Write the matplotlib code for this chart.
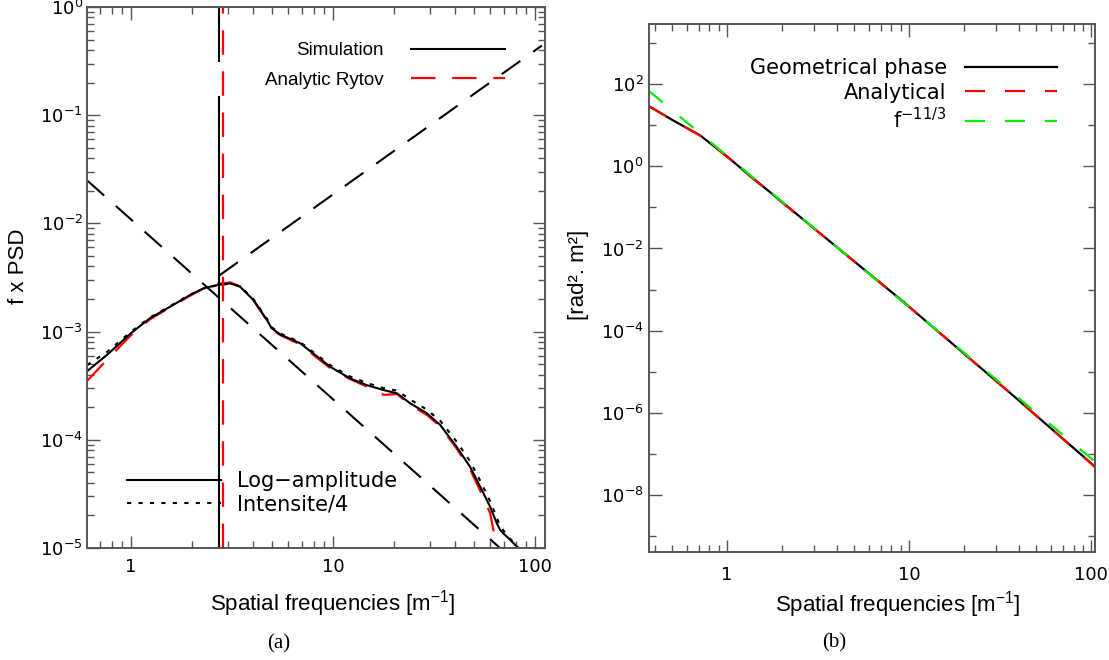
import matplotlib.pyplot as plt
from matplotlib.ticker import FixedLocator, FixedFormatter, LogLocator, NullFormatter, LogFormatterSciNotation

# ---- panel (a): f x PSD of log-amplitude ----
freq_a = [0.605, 0.76, 1.0, 1.24, 1.56, 1.96, 2.28, 2.66, 3.09, 3.46, 4.03, 4.70, 4.95, 5.47, 6.87, 9.67,
          12.1, 14.7, 17.8, 20.7, 24.1, 29.1, 33.9, 40.9, 47.7, 53.4, 59.9, 64.6, 67.1, 69.7, 75.2, 82.6]
log_amp = [4.3e-4, 6.1e-4, 9.7e-4, 1.33e-3, 1.70e-3, 2.18e-3, 2.51e-3, 2.69e-3, 2.79e-3, 2.60e-3, 1.96e-3,
           1.28e-3, 1.08e-3, 9.4e-4, 7.8e-4, 4.73e-4, 3.70e-4, 3.2e-4, 2.88e-4, 2.69e-4, 2.17e-4, 1.76e-4,
           1.37e-4, 8.6e-5, 5.6e-5, 3.7e-5, 2.4e-5, 1.69e-5, 1.47e-5, 1.36e-5, 1.19e-5, 1.0e-5]
intens_4 = [4.9e-4, 6.5e-4, 1.0e-3, 1.35e-3, 1.72e-3, 2.2e-3, 2.5e-3, 2.67e-3, 2.78e-3, 2.62e-3, 2.0e-3,
            1.32e-3, 1.1e-3, 9.6e-4, 8.0e-4, 4.9e-4, 3.85e-4, 3.35e-4, 3.0e-4, 2.85e-4, 2.35e-4, 1.9e-4,
            1.5e-4, 9.6e-5, 6.3e-5, 4.2e-5, 2.7e-5, 1.9e-5, 1.6e-5, 1.45e-5, 1.22e-5, 1.0e-5]
freq_rytov = [0.605, 0.76, 1.0, 1.24, 1.56, 1.96, 2.28, 2.66, 3.09, 3.46, 4.03, 4.70, 4.95, 5.47, 6.87, 9.67,
              12.1, 14.7, 17.8, 20.7, 24.1, 29.1, 33.9, 40.9, 47.7, 53.4, 59.9, 64.6]
rytov = [3.5e-4, 5.5e-4, 9.3e-4, 1.30e-3, 1.68e-3, 2.15e-3, 2.5e-3, 2.75e-3, 2.85e-3, 2.62e-3, 1.95e-3,
         1.27e-3, 1.05e-3, 9.3e-4, 7.6e-4, 4.6e-4, 3.65e-4, 3.1e-4, 2.6e-4, 2.65e-4, 2.1e-4, 1.7e-4,
         1.33e-4, 8.3e-5, 5.3e-5, 3.4e-5, 2.1e-5, 1.0e-5]

# asymptotes
asym_low_x = [0.605, 67.0]
asym_low_y = [0.025, 1.0e-5]
asym_high_x = [2.73, 108.0]
asym_high_y = [3.3e-3, 0.44]

# cut-off frequencies (vertical lines)
cut_sim = 2.73
cut_rytov = 2.85
sim_gap = [0.147, 0.316]

# ---- panel (b): phase spectrum ----
freq_b = [0.373, 0.5, 0.71, 1.0, 1.23, 9.0, 37.8, 105.0]
geo_phase = [29.0, 13.5, 5.7, 1.75, 0.80, 5.7e-4, 2.5e-6, 4.9e-8]
analytical = [29.0, 13.5, 5.6, 1.72, 0.78, 5.7e-4, 2.5e-6, 4.8e-8]
kolmo_x = [0.373, 105.0]
kolmo_y = [68.0, 6.5e-8]

plt.rcParams['font.family'] = 'DejaVu Sans'
plt.rcParams['mathtext.default'] = 'regular'
spine_col = '#555555'
label_font = 'Liberation Sans'

fig = plt.figure(figsize=(11.09, 6.6), dpi=100)
ax1 = fig.add_axes([0.0785, 0.1697, 0.413, 0.8197])
ax2 = fig.add_axes([0.5852, 0.1636, 0.4022, 0.800])

for ax in (ax1, ax2):
    ax.set_xscale('log')
    ax.set_yscale('log')
    for s in ax.spines.values():
        s.set_color(spine_col)
        s.set_linewidth(1.4)
    ax.tick_params(which='both', direction='in', top=True, right=True, color=spine_col, width=1.0, labelsize=13)
    ax.tick_params(which='major', length=9)
    ax.tick_params(which='minor', length=5)

# ---- panel (a) drawing ----
ax1.plot(freq_rytov, rytov, color='red', lw=1.6, dashes=(11, 7.5))
ax1.plot(freq_a, intens_4, color='black', lw=1.5, dashes=(2, 3.5))
ax1.plot(freq_a, log_amp, color='black', lw=1.5)
ax1.plot(asym_low_x, asym_low_y, color='black', lw=1.5, dashes=(11, 7.5))
ax1.plot(asym_high_x, asym_high_y, color='black', lw=1.5, dashes=(11, 7.5))
ax1.plot([cut_sim, cut_sim], [1e-5, sim_gap[0]], color='black', lw=1.5)
ax1.plot([cut_sim, cut_sim], [sim_gap[1], 1.0], color='black', lw=1.5)
ax1.plot([cut_rytov, cut_rytov], [1e-5, 1.0], color='red', lw=1.6, dashes=(11, 7.5))

ax1.set_xlim(0.605, 112)
ax1.set_ylim(1e-5, 1.0)
ax1.xaxis.set_major_locator(FixedLocator([1, 10, 100]))
ax1.xaxis.set_major_formatter(FixedFormatter(['1', '10', '100']))
ax1.xaxis.set_minor_locator(LogLocator(base=10, subs=range(2, 10)))
ax1.xaxis.set_minor_formatter(NullFormatter())
ax1.yaxis.set_major_locator(LogLocator(base=10, numticks=10))
ax1.yaxis.set_major_formatter(LogFormatterSciNotation())
ax1.yaxis.set_minor_locator(LogLocator(base=10, subs=range(2, 10), numticks=20))
ax1.yaxis.set_minor_formatter(NullFormatter())
ax1.tick_params(axis='x', pad=7)
ax1.tick_params(axis='y', pad=3)

# legends drawn from proxy lines
h_sim, = ax1.plot([], [], color='black', lw=1.5)
h_ryt, = ax1.plot([], [], color='red', lw=1.6, dashes=(11, 7.5))
leg1 = ax1.legend([h_sim, h_ryt], ['Simulation', 'Analytic Rytov'], loc='upper right',
                  bbox_to_anchor=(0.913, 0.935), frameon=False, markerfirst=False, borderpad=0,
                  borderaxespad=0, handlelength=5.0, handletextpad=1.5, labelspacing=0.65,
                  prop={'family': label_font, 'size': 13.5})
ax1.add_artist(leg1)
h_la, = ax1.plot([], [], color='black', lw=1.5)
h_in, = ax1.plot([], [], color='black', lw=1.5, dashes=(2, 3.5))
ax1.legend([h_la, h_in], ['Log\u2212amplitude', 'Intensite/4'], loc='lower left',
           bbox_to_anchor=(0.087, 0.062), frameon=False, borderpad=0, borderaxespad=0,
           handlelength=4.5, handletextpad=0.8, labelspacing=0.15, prop={'size': 15})

ax1.set_xlabel('Spatial frequencies [m$^{-1}$]', fontsize=16, family=label_font)
ax1.set_ylabel('f x PSD', fontsize=16, family=label_font)
ax1.xaxis.set_label_coords(0.537, -0.074)
ax1.yaxis.set_label_coords(-0.127, 0.521)

# ---- panel (b) drawing ----
ax2.plot(freq_b, geo_phase, color='black', lw=1.6)
ax2.plot(freq_b, analytical, color='red', lw=1.6, dashes=(9, 9))
ax2.plot(kolmo_x, kolmo_y, color='#00ee00', lw=1.6, dashes=(8, 10))

ax2.set_xlim(0.373, 105)
ax2.set_ylim(4.1e-10, 2.9e3)
ax2.xaxis.set_major_locator(FixedLocator([1, 10, 100]))
ax2.xaxis.set_major_formatter(FixedFormatter(['1', '10', '100']))
ax2.xaxis.set_minor_locator(LogLocator(base=10, subs=range(2, 10)))
ax2.xaxis.set_minor_formatter(NullFormatter())
ax2.yaxis.set_major_locator(FixedLocator([1e2, 1e0, 1e-2, 1e-4, 1e-6, 1e-8]))
ax2.yaxis.set_major_formatter(LogFormatterSciNotation())
ax2.yaxis.set_minor_locator(FixedLocator([1e3, 1e1, 1e-1, 1e-3, 1e-5, 1e-7, 1e-9]))
ax2.yaxis.set_minor_formatter(NullFormatter())
ax2.tick_params(axis='x', pad=10)
ax2.tick_params(axis='y', pad=4)

h_geo, = ax2.plot([], [], color='black', lw=1.6)
h_ana, = ax2.plot([], [], color='red', lw=1.6, dashes=(9, 9))
h_kol, = ax2.plot([], [], color='#00ee00', lw=1.6, dashes=(9, 9))
ax2.legend([h_geo, h_ana, h_kol], ['Geometrical phase', 'Analytical', 'f$^{-11/3}$'], loc='upper right',
           bbox_to_anchor=(0.915, 0.935), frameon=False, markerfirst=False, borderpad=0,
           borderaxespad=0, handlelength=4.4, handletextpad=0.9, labelspacing=0.2, prop={'size': 15})

ax2.set_xlabel('Spatial frequencies [m$^{-1}$]', fontsize=16, family=label_font)
ax2.set_ylabel('[rad². m²]', fontsize=16, family=label_font)
ax2.xaxis.set_label_coords(0.558, -0.07)
ax2.yaxis.set_label_coords(-0.135, 0.525)

fig.text(278.6 / 1109, 1 - 643.7 / 660, '(a)', ha='center', va='center', family='Liberation Serif', fontsize=15)
fig.text(834 / 1109, 1 - 643 / 660, '(b)', ha='center', va='center', family='Liberation Serif', fontsize=15)

fig.savefig('out.png', dpi=100)
